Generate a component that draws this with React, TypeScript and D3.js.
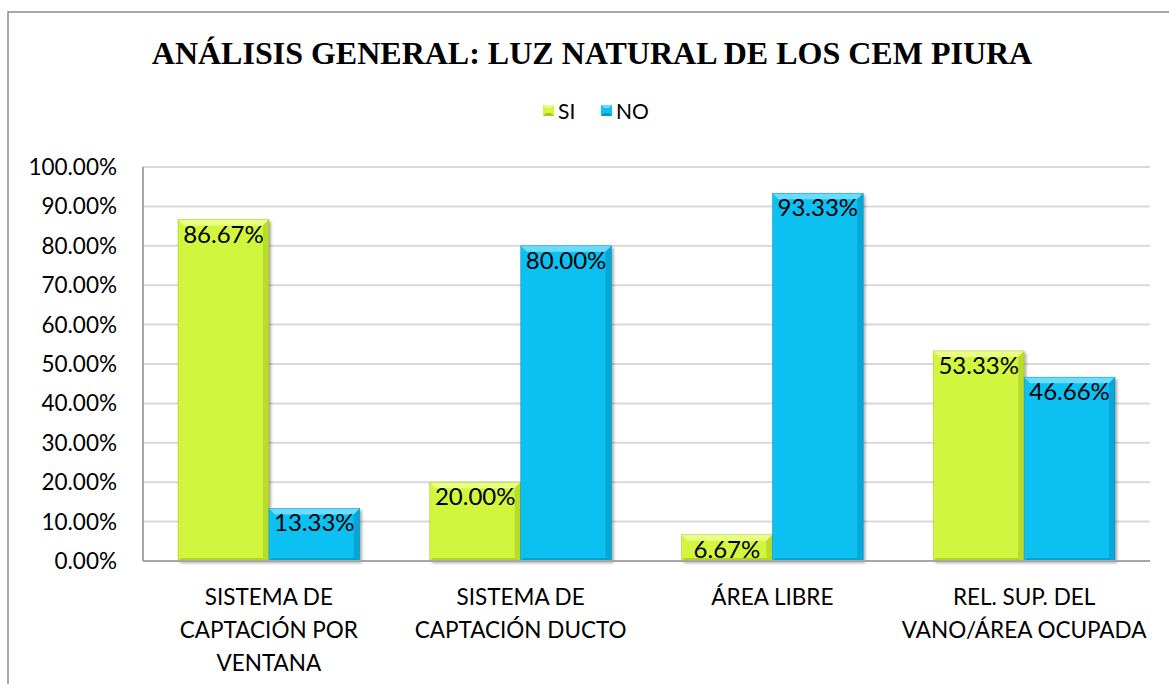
import React, { useEffect, useRef } from 'react';
import * as d3 from 'd3';

// chart data
const categories = [
  ['SISTEMA DE', 'CAPTACIÓN POR', 'VENTANA'],
  ['SISTEMA DE', 'CAPTACIÓN DUCTO'],
  ['ÁREA LIBRE'],
  ['REL. SUP. DEL', 'VANO/ÁREA OCUPADA'],
];
const seriesNames = ['SI', 'NO'];
const siValues = [86.67, 20.0, 6.67, 53.33];
const noValues = [13.33, 80.0, 93.33, 46.66];
const yTicks = [0, 10, 20, 30, 40, 50, 60, 70, 80, 90, 100];

const W = 1169;
const H = 684;
const FONT = 'Lato, "Open Sans", sans-serif';

const palette = [
  { main: '#d2f63c', light: '#e9ff86', dark: '#a9c922', edge: '#8fa91a' },
  { main: '#0ec0f2', light: '#6adcff', dark: '#0196c6', edge: '#0580a8' },
];

function App() {
  const ref = useRef<SVGSVGElement | null>(null);

  useEffect(() => {
    const svg = d3.select(ref.current);
    svg.selectAll('*').remove();

    const margin = { top: 167, right: 19, bottom: 123, left: 143 };
    const innerW = W - margin.left - margin.right;
    const innerH = H - margin.top - margin.bottom;

    // outer chart border (only left/top visible in the picture)
    svg.append('path')
      .attr('d', `M8,${H} L8,12 L${W},12`)
      .attr('fill', 'none')
      .attr('stroke', '#8c8c8c')
      .attr('stroke-width', 1.5);

    // title
    svg.append('text')
      .attr('x', 592)
      .attr('y', 64)
      .attr('text-anchor', 'middle')
      .attr('font-family', '"Liberation Serif", "Times New Roman", serif')
      .attr('font-weight', 'bold')
      .style('font-size', '32px')
      .text('ANÁLISIS GENERAL: LUZ NATURAL DE LOS CEM PIURA');

    // legend
    const legend = svg.append('g');
    const legendX = [543, 601];
    seriesNames.forEach((name, i) => {
      const c = palette[i];
      const g = legend.append('g').attr('transform', `translate(${legendX[i]},105)`);
      g.append('rect').attr('width', 11).attr('height', 11).attr('fill', c.main);
      g.append('path').attr('d', 'M0,0 L11,0 L8,3 L3,3 Z').attr('fill', c.light);
      g.append('path').attr('d', 'M0,11 L11,11 L8,8 L3,8 Z').attr('fill', c.dark);
      g.append('text')
        .attr('x', 15)
        .attr('y', 14)
        .attr('font-family', FONT)
        .style('font-size', '21px')
        .text(name);
    });

    const chart = svg.append('g').attr('transform', `translate(${margin.left},${margin.top})`);

    const x0 = d3.scaleBand().domain(d3.range(categories.length).map(String)).range([0, innerW]).paddingInner(0.278).paddingOuter(0.139);
    const x1 = d3.scaleBand().domain(seriesNames).range([0, x0.bandwidth()]);
    const y = d3.scaleLinear().domain([0, 100]).range([innerH, 0]);

    // gridlines
    chart.append('g')
      .selectAll('line')
      .data(yTicks.slice(1))
      .join('line')
      .attr('x1', 0)
      .attr('x2', innerW)
      .attr('y1', d => y(d))
      .attr('y2', d => y(d))
      .attr('stroke', '#d9d9d9')
      .attr('stroke-width', 2);

    // y tick labels
    chart.append('g')
      .selectAll('text')
      .data(yTicks)
      .join('text')
      .attr('x', -26)
      .attr('y', d => y(d) + 8)
      .attr('text-anchor', 'end')
      .attr('font-family', FONT)
      .style('font-size', '22.5px')
      .text(d => d.toFixed(2) + '%');

    const defs = svg.append('defs');
    const f = defs.append('filter').attr('id', 'shadow').attr('x', '-10%').attr('y', '-10%').attr('width', '130%').attr('height', '130%');
    f.append('feGaussianBlur').attr('in', 'SourceAlpha').attr('stdDeviation', 1.5);
    f.append('feOffset').attr('dx', 2).attr('dy', 2).attr('result', 'b');
    f.append('feComponentTransfer').append('feFuncA').attr('type', 'linear').attr('slope', 0.35);
    const merge = f.append('feMerge');
    merge.append('feMergeNode');
    merge.append('feMergeNode').attr('in', 'SourceGraphic');

    const bars: { cat: number; s: number; v: number }[] = [];
    categories.forEach((_, i) => {
      bars.push({ cat: i, s: 0, v: siValues[i] });
      bars.push({ cat: i, s: 1, v: noValues[i] });
    });

    const bev = 6;
    const barG = chart.append('g');
    bars.forEach(b => {
      const c = palette[b.s];
      const bx = (x0(String(b.cat)) as number) + (x1(seriesNames[b.s]) as number);
      const bw = x1.bandwidth();
      const by = y(b.v);
      const bh = innerH - by;
      const g = barG.append('g').attr('transform', `translate(${bx},${by})`);
      g.append('rect').attr('width', bw).attr('height', bh).attr('fill', c.main).attr('filter', 'url(#shadow)');
      const e = Math.min(bev, bh / 2);
      const eb = Math.min(3, bh / 2);
      g.append('path').attr('d', `M0,0 L${bw},0 L${bw - e},${e} L${e},${e} Z`).attr('fill', c.light);
      g.append('path').attr('d', `M${bw},0 L${bw - e},${e} L${bw - e},${bh - eb} L${bw},${bh} Z`).attr('fill', c.dark).attr('opacity', 0.6);
      g.append('path').attr('d', `M0,${bh} L${eb},${bh - eb} L${bw - e},${bh - eb} L${bw},${bh} Z`).attr('fill', c.dark).attr('opacity', 0.8);
      g.append('rect').attr('width', bw).attr('height', bh).attr('fill', 'none').attr('stroke', c.edge).attr('stroke-width', 0.6).attr('opacity', 0.6);
      g.append('text')
        .attr('x', bw / 2)
        .attr('y', 23)
        .attr('text-anchor', 'middle')
        .attr('font-family', FONT)
        .style('font-size', '24px')
        .text(b.v.toFixed(2) + '%');
    });

    // axes lines
    chart.append('line')
      .attr('x1', 0).attr('x2', innerW)
      .attr('y1', innerH).attr('y2', innerH)
      .attr('stroke', '#a6a6a6').attr('stroke-width', 2);
    chart.append('line')
      .attr('x1', 0).attr('x2', 0)
      .attr('y1', 0).attr('y2', innerH)
      .attr('stroke', '#a6a6a6').attr('stroke-width', 2);

    // category labels
    categories.forEach((lines, i) => {
      const cx = (x0(String(i)) as number) + x0.bandwidth() / 2;
      const t = chart.append('text')
        .attr('text-anchor', 'middle')
        .attr('font-family', FONT)
        .style('font-size', '22.5px');
      lines.forEach((ln, j) => {
        t.append('tspan').attr('x', cx).attr('y', innerH + 44 + j * 33).text(ln);
      });
    });
  }, []);

  return (
    <svg
      ref={ref}
      width={W}
      height={H}
      style={{ position: 'absolute', left: 0, top: 0, background: '#fff' }}
    />
  );
}

export default App;
